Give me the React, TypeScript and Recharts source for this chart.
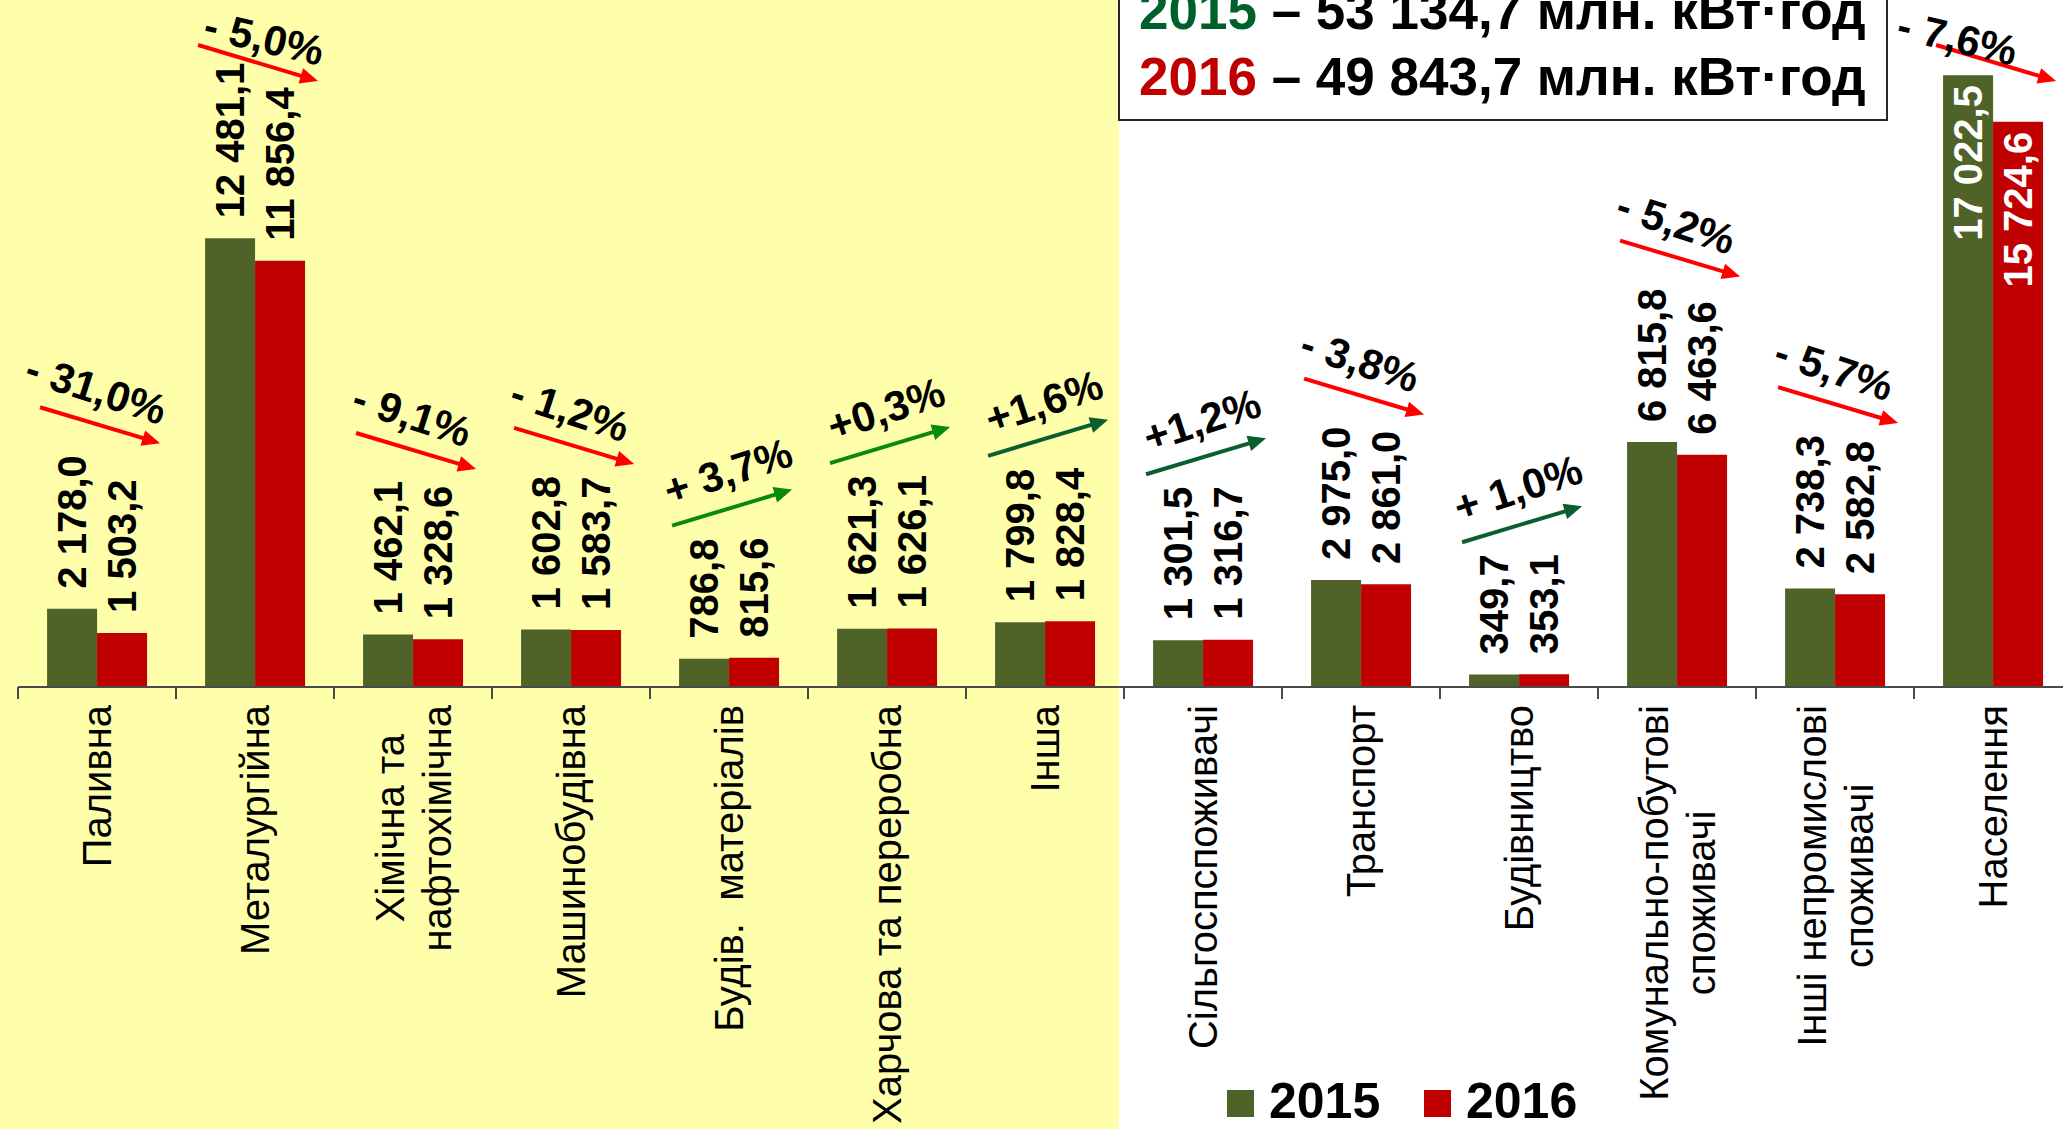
import React from 'react';
import { BarChart, Bar, XAxis, YAxis, Legend } from 'recharts';

// ---------- data ----------
const categories = [
  'Паливна',
  'Металургійна',
  'Хімічна та\nнафтохімічна',
  'Машинобудівна',
  'Будів.  матеріалів',
  'Харчова та переробна',
  'Інша',
  'Сільгоспспоживачі',
  'Транспорт',
  'Будівництво',
  'Комунально-побутові\nспоживачі',
  'Інші непромислові\nспоживачі',
  'Населення',
];
const values2015 = [2178.0, 12481.1, 1462.1, 1602.8, 786.8, 1621.3, 1799.8, 1301.5, 2975.0, 349.7, 6815.8, 2738.3, 17022.5];
const values2016 = [1503.2, 11856.4, 1328.6, 1583.7, 815.6, 1626.1, 1828.4, 1316.7, 2861.0, 353.1, 6463.6, 2582.8, 15724.6];
const changes = ['- 31,0%', '- 5,0%', '- 9,1%', '- 1,2%', '+ 3,7%', '+0,3%', '+1,6%', '+1,2%', '- 3,8%', '+ 1,0%', '- 5,2%', '- 5,7%', '- 7,6%'];
const seriesNames = ['2015', '2016'];
const totals = ['53 134,7', '49 843,7'];
const totalUnit = 'млн. кВт·год';

// ---------- layout / style ----------
const PAGE_W = 2063;
const PAGE_H = 1129;
const CHART_W = 2080;
const MARGIN = { top: 40, right: 8, bottom: 42, left: 18 };
const XAXIS_H = 400;
const PLOT_W = CHART_W - MARGIN.left - MARGIN.right;
const BAND = PLOT_W / categories.length;
const Y_MAX = 18000;

const GREEN = '#4F6228';
const RED = '#C00000';
const YELLOW = '#FFFFAB';
const AXIS = '#4a4a4a';
const FONT = '"Liberation Sans", Arial, sans-serif';
const VALUE_SIZE = 40;
const CAT_SIZE = 40;
const PCT_SIZE = 42;
const LABEL_GAP = 20;
const DOWN_COLOR = '#FF0000';
const RISE_COLORS: Record<number, string> = { 4: '#0A8A0A', 5: '#0A8A0A', 6: '#0B5E30', 7: '#0B5E30', 9: '#0B5E30' };

const data = categories.map((name, i) => ({ name, v2015: values2015[i], v2016: values2016[i] }));

const fmt = (v: number) => {
  const [a, b] = v.toFixed(1).split('.');
  return a.replace(/\B(?=(\d{3})+(?!\d))/g, ' ') + ',' + b;
};

let ctx: CanvasRenderingContext2D | null = null;
function textWidth(t: string, font: string) {
  if (!ctx) ctx = document.createElement('canvas').getContext('2d');
  if (!ctx) return t.length * 20;
  ctx.font = font;
  return ctx.measureText(t).width;
}
const VALUE_CSS = `bold ${VALUE_SIZE}px "Liberation Sans"`;
const CAT_CSS = `${CAT_SIZE}px "Liberation Sans"`;
const PCT_CSS = `bold ${PCT_SIZE}px "Liberation Sans"`;

function labelInfo(barTop: number, value: number) {
  const len = textWidth(fmt(value), VALUE_CSS);
  const top = barTop - LABEL_GAP - len;
  if (top < 0) return { inside: true, top: barTop };
  return { inside: false, top };
}

function ValueText({ cx, barTop, value }: { cx: number; barTop: number; value: number }) {
  const info = labelInfo(barTop, value);
  const common = {
    fontFamily: FONT,
    fontWeight: 'bold' as const,
    fontSize: VALUE_SIZE,
    dominantBaseline: 'central' as const,
  };
  if (info.inside) {
    return (
      <text {...common} transform={`translate(${cx},${barTop + 10}) rotate(-90)`} textAnchor="end" fill="#FFFFFF">
        {fmt(value)}
      </text>
    );
  }
  return (
    <text {...common} transform={`translate(${cx},${barTop - LABEL_GAP}) rotate(-90)`} textAnchor="start" fill="#000000">
      {fmt(value)}
    </text>
  );
}

function getIndex(p: any, x: number, isSecond: boolean) {
  if (typeof p.index === 'number') return p.index;
  const center = isSecond ? x : x + Number(p.width);
  return Math.round((center - MARGIN.left - BAND / 2) / BAND);
}

function renderLabel2015(p: any) {
  const x = Number(p.x), y = Number(p.y), w = Number(p.width);
  const idx = getIndex(p, x, false);
  return <ValueText key={`l15-${idx}`} cx={x + w / 2} barTop={y} value={values2015[idx]} />;
}

function Annotation({ cx, top15, top16, idx }: { cx: number; top15: number; top16: number; idx: number }) {
  const change = changes[idx];
  const down = change.trim().startsWith('-');
  const t15 = labelInfo(top15, values2015[idx]).top;
  const t16 = labelInfo(top16, values2016[idx]).top;
  const m = Math.max(63, Math.min(t15, t16) - 30);
  const x0 = cx - 57;
  const x1 = cx + 63;
  const dy = 18;
  const y0 = down ? m - dy : m + dy;
  const y1 = down ? m + dy : m - dy;
  const color = down ? DOWN_COLOR : RISE_COLORS[idx] || '#0A8A0A';
  const len = Math.hypot(x1 - x0, y1 - y0);
  const ux = (x1 - x0) / len, uy = (y1 - y0) / len;
  const hl = 18, hw = 8;
  const bx = x1 - ux * hl, by = y1 - uy * hl;
  const head = `${x1},${y1} ${bx - uy * hw},${by + ux * hw} ${bx + uy * hw},${by - ux * hw}`;
  const mx = (x0 + x1) / 2;
  const clamped = m - 36 < 40;
  const ty = clamped ? 38 : m - 36;
  const halfLen = textWidth(change, PCT_CSS) / 2;
  const tx = Math.min(clamped ? mx + 6 : mx - 4, PAGE_W - halfLen - 45);
  const angle = (down ? 1 : -1) * (clamped ? 13 : 18);
  return (
    <g>
      <line x1={x0} y1={y0} x2={bx + ux * 2} y2={by + uy * 2} stroke={color} strokeWidth={4} />
      <polygon points={head} fill={color} />
      <text
        transform={`translate(${tx},${ty}) rotate(${angle})`}
        textAnchor="middle"
        dominantBaseline="central"
        fontFamily={FONT}
        fontWeight="bold"
        fontSize={PCT_SIZE}
        fill="#000"
        style={{ whiteSpace: 'pre' }}
      >
        {change}
      </text>
    </g>
  );
}

function renderLabel2016(p: any) {
  const x = Number(p.x), y = Number(p.y), w = Number(p.width), h = Number(p.height);
  const idx = getIndex(p, x, true);
  const bottom = y + h;
  const top15 = bottom - (h * values2015[idx]) / values2016[idx];
  return (
    <g key={`l16-${idx}`}>
      <ValueText cx={x + w / 2} barTop={y} value={values2016[idx]} />
      <Annotation cx={x} top15={top15} top16={y} idx={idx} />
    </g>
  );
}

function CategoryTick(p: any) {
  const x = Number(p.x), y = Number(p.y);
  const lines = String(p.payload?.value ?? '').split('\n');
  const maxLen = Math.max(...lines.map((l) => textWidth(l, CAT_CSS)));
  const cy = y + 18 + maxLen / 2;
  const left = x - BAND / 2;
  return (
    <g>
      <line x1={left} y1={y} x2={left} y2={y + 12} stroke={AXIS} strokeWidth={2} />
      {lines.map((l, i) => (
        <text
          key={i}
          transform={`translate(${x + (i - (lines.length - 1) / 2) * 47},${cy}) rotate(-90)`}
          textAnchor="middle"
          dominantBaseline="central"
          fontFamily={FONT}
          fontSize={CAT_SIZE}
          fill="#000"
          style={{ whiteSpace: 'pre' }}
        >
          {l}
        </text>
      ))}
    </g>
  );
}

function LegendContent(props: any) {
  const payload = props.payload || [];
  return (
    <svg width={420} height={48} style={{ overflow: 'visible', display: 'block' }}>
      {payload.map((e: any, i: number) => (
        <g key={i} transform={`translate(${i * 197},0)`}>
          <rect x={0} y={10} width={27} height={27} fill={e.color} />
          <text x={42} y={38} fontFamily={FONT} fontWeight="bold" fontSize={50} fill="#000">
            {e.value}
          </text>
        </g>
      ))}
    </svg>
  );
}

function TotalsBox() {
  const colors = ['#00602B', RED];
  const baselines = [29, 95];
  return (
    <svg width={PAGE_W} height={PAGE_H} style={{ position: 'absolute', left: 0, top: 0, pointerEvents: 'none' }}>
      <rect x={1119} y={-10} width={768} height={130} fill="#FFFFFF" stroke="#262626" strokeWidth={2} />
      {seriesNames.map((s, i) => (
        <text key={s} x={1139} y={baselines[i]} fontFamily={FONT} fontWeight="bold" fontSize={53} style={{ whiteSpace: 'pre' }}>
          <tspan fill={colors[i]}>{s}</tspan>
          <tspan fill="#000">{` – ${totals[i]} ${totalUnit}`}</tspan>
        </text>
      ))}
    </svg>
  );
}

export default function App() {
  return (
    <div
      style={{
        position: 'absolute',
        left: 0,
        top: 0,
        width: PAGE_W,
        height: PAGE_H,
        overflow: 'hidden',
        background: `linear-gradient(to right, ${YELLOW} 0px, ${YELLOW} 1119px, #FFFFFF 1119px, #FFFFFF 100%)`,
      }}
    >
      <BarChart
        width={CHART_W}
        height={PAGE_H}
        data={data}
        margin={MARGIN}
        barCategoryGap="18.4%"
        barGap={0}
      >
        <YAxis hide domain={[0, Y_MAX]} />
        <XAxis
          dataKey="name"
          height={XAXIS_H}
          interval={0}
          tickLine={false}
          tickSize={0}
          tickMargin={0}
          axisLine={{ stroke: AXIS, strokeWidth: 2 }}
          tick={(p: any) => <CategoryTick {...p} />}
        />
        <Bar dataKey="v2015" name={seriesNames[0]} fill={GREEN} isAnimationActive={false} label={renderLabel2015} />
        <Bar dataKey="v2016" name={seriesNames[1]} fill={RED} isAnimationActive={false} label={renderLabel2016} />
        <Legend
          layout="horizontal"
          verticalAlign="middle"
          align="center"
          wrapperStyle={{ left: 1227, top: 1080, width: 420, height: 48 }}
          content={LegendContent}
        />
      </BarChart>
      <TotalsBox />
    </div>
  );
}
